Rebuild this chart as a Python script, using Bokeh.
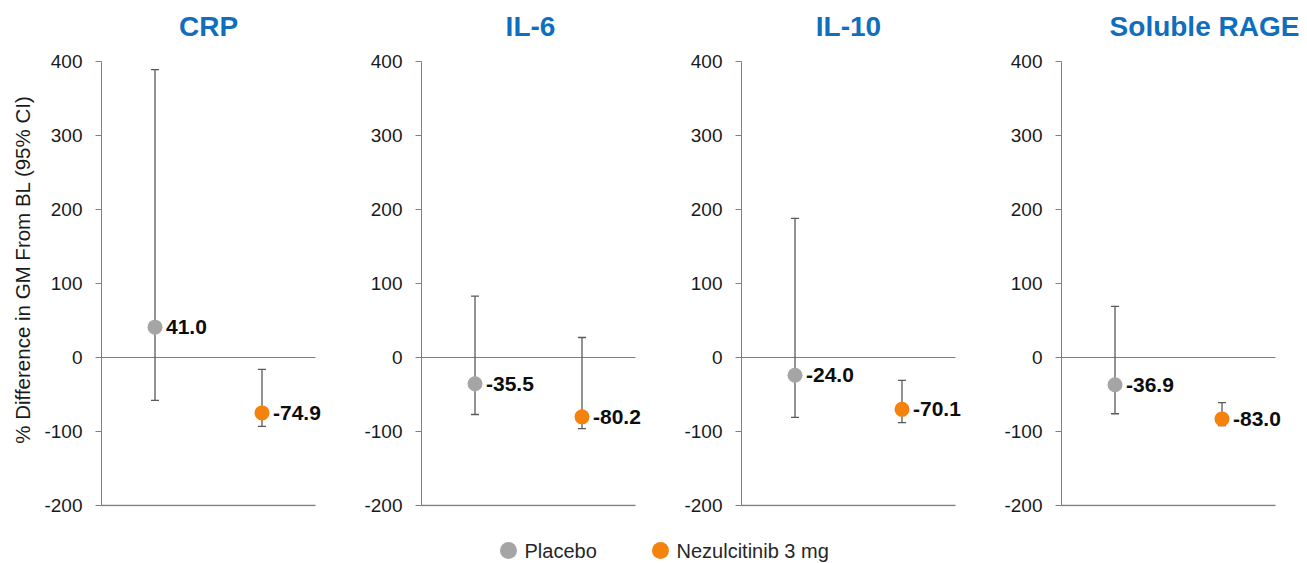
import math
from bokeh.plotting import figure
from bokeh.models import (ColumnDataSource, Range1d, FixedTicker,
                          Whisker, TeeHead, LabelSet)
from bokeh.layouts import column, row
from bokeh.core.properties import value
from bokeh.embed import file_html
from bokeh.resources import INLINE

# ---- data ----
panels = ["CRP", "IL-6", "IL-10", "Soluble RAGE"]
groups = ["Placebo", "Nezulcitinib 3 mg"]
placebo = [41.0, -35.5, -24.0, -36.9]
placebo_lo = [-58, -77, -81, -76]
placebo_hi = [389, 83, 188, 69]
nezul = [-74.9, -80.2, -70.1, -83.0]
nezul_lo = [-93, -96, -88, -92]
nezul_hi = [-16, 27, -31, -61]
yticks = [-200, -100, 0, 100, 200, 300, 400]
ytick_labels = ["-200", "-100", "0", "100", "200", "300", "400"]
ylabel = "% Difference in GM From BL (95% CI)"

# ---- styles / layout ----
FONT = "Liberation Sans"
colors = ["#A5A5A5", "#F5820D"]
title_color = "#106EBE"
axis_gray = "#808080"
err_gray = "#595959"
text_dark = "#1A1A1A"
LABEL_W = 38                # strip holding the shared y-axis title
LABEL_X, LABEL_Y_FROM_TOP = 22, 273
fig_widths = [292, 320, 320, 337]
border_left = [63, 91, 91, 91]
border_right = [4, 4, 4, 1]
title_offsets = [0, 2, 0, 36]
CAT_SPAN_PX = 214           # pixel width covered by the categories
SCALE_PX = 444              # pixel height of the -200..400 scale
FIG_H, TOP, BOTTOM = 517, 4, 11
TITLE_GAP_PX = 35.5         # title centre above the top of the scale

n = len(groups)
xs = [k + 0.5 for k in range(n)]          # category centres
YMIN, YMAX = yticks[0], yticks[-1]
px_per_y = SCALE_PX / (YMAX - YMIN)
frame_h = FIG_H - TOP - BOTTOM
y_lo = YMIN - 1 / px_per_y
y_hi = y_lo + frame_h / px_per_y
title_y = YMAX + TITLE_GAP_PX / px_per_y

# ---- y-axis title strip ----
lab = figure(width=LABEL_W, height=FIG_H, x_range=Range1d(0, LABEL_W),
             y_range=Range1d(0, FIG_H), output_backend="svg", toolbar_location=None,
             min_border=0, min_border_left=0, min_border_right=0,
             min_border_top=0, min_border_bottom=0)
lab.axis.visible = False
lab.grid.visible = False
lab.outline_line_color = None
lab.text(x=[LABEL_X], y=[FIG_H - LABEL_Y_FROM_TOP], text=[ylabel], angle=math.pi / 2,
         text_align="center", text_baseline="middle", text_font=value(FONT),
         text_font_size="20.5px", text_color=text_dark)

figs = [lab]
for i, name in enumerate(panels):
    frame_w = fig_widths[i] - border_left[i] - border_right[i]
    x_hi = frame_w * n / CAT_SPAN_PX
    src = ColumnDataSource(dict(
        x=xs,
        v=[placebo[i], nezul[i]],
        lo=[placebo_lo[i], nezul_lo[i]],
        hi=[placebo_hi[i], nezul_hi[i]],
        c=colors,
        lab=[f"{placebo[i]:.1f}", f"{nezul[i]:.1f}"],
    ))
    p = figure(title=None, x_range=Range1d(0, x_hi), y_range=Range1d(y_lo, y_hi),
               width=fig_widths[i], height=FIG_H, output_backend="svg",
               toolbar_location=None,
               min_border_left=border_left[i], min_border_right=border_right[i],
               min_border_top=TOP, min_border_bottom=BOTTOM)
    p.outline_line_color = None
    p.grid.visible = False
    p.background_fill_color = "white"
    p.border_fill_color = "white"

    # panel title
    p.text(x=[n / 2], y=[title_y], text=[name], x_offset=title_offsets[i],
           text_align="center", text_baseline="middle",
           text_font=value(FONT), text_font_style="bold", text_font_size="28px",
           text_color=title_color)

    # y axis
    p.yaxis.bounds = (YMIN, YMAX)
    p.yaxis.ticker = FixedTicker(ticks=yticks)
    p.yaxis.major_label_overrides = dict(zip(yticks, ytick_labels))
    p.yaxis.major_label_text_font = FONT
    p.yaxis.major_label_text_font_size = "19px"
    p.yaxis.major_label_text_color = text_dark
    p.yaxis.major_tick_out = 6
    p.yaxis.major_tick_in = 0
    p.yaxis.minor_tick_line_color = None
    p.yaxis.axis_line_color = axis_gray
    p.yaxis.major_tick_line_color = axis_gray
    p.yaxis.major_label_standoff = 13

    p.xaxis.visible = False

    # baseline at the bottom of the scale and the zero reference line
    p.segment(x0=[0, 0], y0=[YMIN, 0], x1=[n, n], y1=[YMIN, 0],
              line_color=axis_gray, line_width=[1.3, 1.1])

    wh = Whisker(base="x", upper="hi", lower="lo", source=src,
                 line_color=err_gray, line_width=1.3, level="glyph",
                 upper_head=TeeHead(size=8, line_color=err_gray, line_width=1.3),
                 lower_head=TeeHead(size=8, line_color=err_gray, line_width=1.3))
    p.add_layout(wh)

    r = p.scatter(x="x", y="v", size=15, fill_color="c", line_color=None, source=src)
    r.level = "annotation"
    labels = LabelSet(x="x", y="v", text="lab", x_offset=11, text_baseline="middle",
                      text_align="left", text_font=value(FONT), text_font_style="bold",
                      text_font_size="21px", text_color="#0D0D0D", source=src)
    p.add_layout(labels)
    figs.append(p)

# ---- legend strip ----
total_w = LABEL_W + sum(fig_widths)
leg = figure(width=total_w, height=46, x_range=Range1d(0, total_w), y_range=Range1d(0, 46),
             output_backend="svg", toolbar_location=None,
             min_border=0, min_border_left=0, min_border_right=0,
             min_border_top=0, min_border_bottom=0)
leg.axis.visible = False
leg.grid.visible = False
leg.outline_line_color = None
lsrc = ColumnDataSource(dict(x=[508, 660], y=[13, 13], c=colors, t=groups))
leg.scatter(x="x", y="y", size=17, fill_color="c", line_color=None, source=lsrc)
leg.text(x="x", y="y", text="t", x_offset=16, text_baseline="middle", text_align="left",
         text_font=value(FONT), text_font_size="20px", text_color="#262626", source=lsrc)

layout = column(row(*figs, spacing=0), leg, spacing=0)
open("out.html", "w").write(file_html(layout, INLINE))
